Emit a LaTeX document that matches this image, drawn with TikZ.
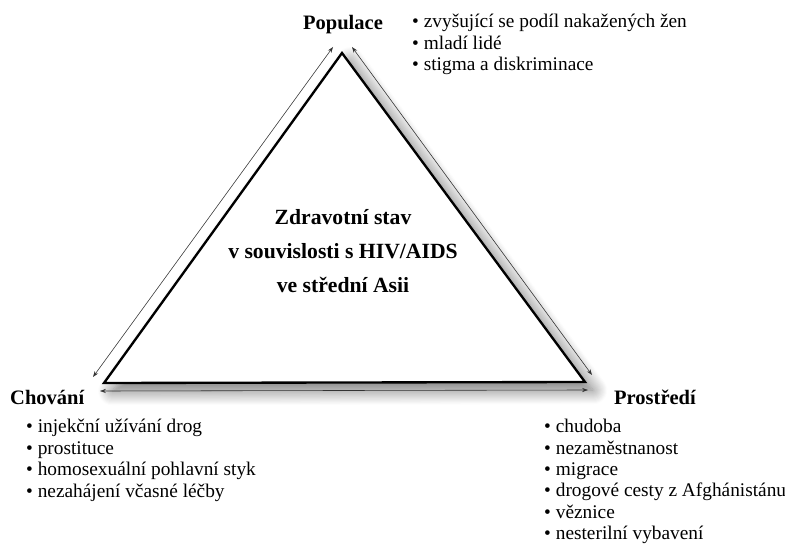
\documentclass[tikz,border=0pt]{standalone}
\usepackage{fontspec}
\setmainfont{Liberation Serif}
\usetikzlibrary{arrows.meta,positioning,shadows.blur}
\tikzset{
	corner/.style={font=\bfseries\fontsize{17.5}{20}\selectfont, inner sep=0pt},
	items/.style={align=left, font=\fontsize{16.5}{18.3}\selectfont, inner sep=0pt, anchor=north west},
	link/.style={{Stealth[length=5pt,width=3.5pt]}-{Stealth[length=5pt,width=3.5pt]}, black!80, line width=0.5pt}
}
\begin{document}
\begin{tikzpicture}[x=0.03cm, y=-0.03cm]
	\useasboundingbox (0,0) rectangle (785,545);
	
	% corners of the triangle
	\coordinate (top) at (342,53);
	\coordinate (left) at (104,383);
	\coordinate (right) at (585,382);
	
	\draw[line width=2pt, fill=white, line join=miter,
		blur shadow={shadow xshift=7pt, shadow yshift=-7pt, shadow blur radius=12pt, shadow blur steps=14, shadow opacity=55}]
		(top) -- (left) -- (right) -- cycle;
	
	\node[font=\bfseries\fontsize{18.5}{29}\selectfont, align=center] (state) at (343,251) {
		Zdravotní stav\\
		v souvislosti s HIV/AIDS\\
		ve střední Asii};
	
	% labels
	\node[corner] (pop) at (343,25) {Populace};
	\node[corner, anchor=west] (chov) at (10,397) {Chování};
	\node[corner, anchor=center] (prost) at (655,397) {Prostředí};
	
	\node[items] (popitems) at (412,14) {
		• zvyšující se podíl nakažených žen\\
		• mladí lidé\\
		• stigma a diskriminace};
	\node[items] (chovitems) at (26,419) {
		• injekční užívání drog\\
		• prostituce\\
		• homosexuální pohlavní styk\\
		• nezahájení včasné léčby};
	\node[items] (prostitems) at (544,419) {
		• chudoba\\
		• nezaměstnanost\\
		• migrace\\
		• drogové cesty z Afghánistánu\\
		• věznice\\
		• nesterilní vybavení};
	
	% arrows along the sides
	\coordinate (topL) at (333,47);
	\coordinate (topR) at (352,47);
	\coordinate (leftT) at (93,377);
	\coordinate (leftB) at (100,391);
	\coordinate (rightT) at (592,375);
	\coordinate (rightB) at (588,390);
	
	\draw[link] (topL) -- (leftT);
	\draw[link] (topR) -- (rightT);
	\draw[link] (leftB) -- (rightB);
\end{tikzpicture}
\end{document}
